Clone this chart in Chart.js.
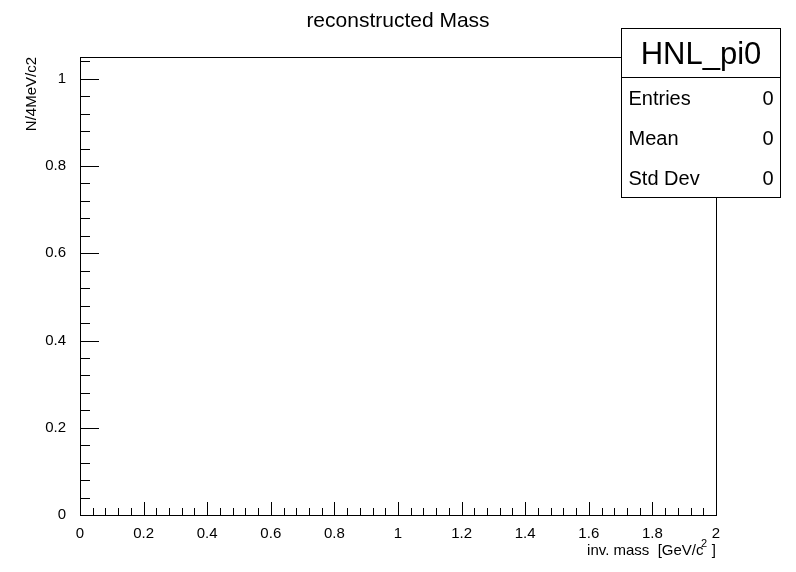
<!DOCTYPE html>
<html>
<head>
<meta charset="utf-8">
<script src="https://cdn.jsdelivr.net/npm/chart.js@4/dist/chart.umd.min.js"></script>
<style>
  body { margin: 0; background: #fff; }
  canvas { display: block; }
</style>
</head>
<body>
<canvas id="massChart" width="796" height="572"></canvas>
<script>
// histogram is empty: 500 bins of 4 MeV between 0 and 2 GeV
const xRange = [0, 2];
const yRange = [0, 1.05];
const binCounts = [];
const statLabels = ["Entries", "Mean", "Std Dev"];
const statValues = ["0", "0", "0"];
const histName = "HNL_pi0";
const FONT = "'Liberation Sans', Arial, sans-serif";

// ROOT-style frame, inward ticks, titles and stats box
const rootStyle = {
    id: "rootStyle",
    afterDraw(chart) {
        const ctx = chart.ctx;
        const a = chart.chartArea;
        const xs = chart.scales.x, ys = chart.scales.y;
        ctx.save();
        ctx.strokeStyle = "#000";
        ctx.lineWidth = 1;
        ctx.strokeRect(a.left + 0.5, a.top + 0.5, a.right - a.left, a.bottom - a.top);

        ctx.beginPath();
        for (let i = 0; i <= 50; i++) {
            const v = i * 0.04;
            const px = Math.round(xs.getPixelForValue(v)) + 0.5;
            const len = i % 5 === 0 ? 13 : 7;
            ctx.moveTo(px, a.bottom);
            ctx.lineTo(px, a.bottom - len);
        }
        for (let i = 0; i <= 26; i++) {
            const v = i * 0.04;
            const py = Math.round(ys.getPixelForValue(v)) + 0.5;
            const len = i % 5 === 0 ? 19 : 10;
            ctx.moveTo(a.left, py);
            ctx.lineTo(a.left + len, py);
        }
        ctx.stroke();

        ctx.fillStyle = "#000";
        ctx.font = "21px " + FONT;
        ctx.textAlign = "center";
        ctx.textBaseline = "middle";
        ctx.fillText("reconstructed Mass", 398, 21);

        ctx.font = "15px " + FONT;
        ctx.textAlign = "right";
        ctx.textBaseline = "alphabetic";
        ctx.fillText("inv. mass  [GeV/c  ]", 716, 555);
        ctx.font = "11px " + FONT;
        ctx.fillText("2", 707, 547);

        ctx.save();
        ctx.translate(36, 57);
        ctx.rotate(-Math.PI / 2);
        ctx.font = "15px " + FONT;
        ctx.textAlign = "right";
        ctx.fillText("N/4MeV/c2", 0, 0);
        ctx.restore();

        // stats box
        const bx = 621.5, by = 28.5, bw = 159, bh = 169;
        ctx.fillStyle = "#fff";
        ctx.fillRect(bx, by, bw, bh);
        ctx.strokeRect(bx, by, bw, bh);
        ctx.beginPath();
        ctx.moveTo(bx, by + 49);
        ctx.lineTo(bx + bw, by + 49);
        ctx.stroke();
        ctx.fillStyle = "#000";
        ctx.font = "31px " + FONT;
        ctx.textAlign = "center";
        ctx.textBaseline = "middle";
        ctx.fillText(histName, bx + bw / 2, by + 27);
        ctx.font = "20px " + FONT;
        statLabels.forEach((lab, i) => {
            const y = by + 71 + i * 40;
            ctx.textAlign = "left";
            ctx.fillText(lab, bx + 7, y);
            ctx.textAlign = "right";
            ctx.fillText(statValues[i], bx + bw - 7, y);
        });
        ctx.restore();
    }
};

new Chart(document.getElementById("massChart"), {
    type: "scatter",
    data: {
        datasets: [{
            label: histName,
            data: binCounts,
            showLine: false,
            pointRadius: 0
        }]
    },
    options: {
        responsive: false,
        animation: false,
        layout: { padding: { top: 57, right: 80, left: 0, bottom: 0 } },
        plugins: { legend: { display: false }, tooltip: { enabled: false } },
        scales: {
            x: {
                type: "linear",
                min: xRange[0],
                max: xRange[1],
                grid: { display: false },
                border: { display: false },
                afterFit: s => { s.height = 57; },
                ticks: {
                    stepSize: 0.2,
                    maxRotation: 0,
                    padding: 2,
                    color: "#000",
                    font: { family: FONT, size: 15 },
                    callback: v => Number(v.toFixed(1)).toString()
                }
            },
            y: {
                type: "linear",
                min: yRange[0],
                max: yRange[1],
                grid: { display: false },
                border: { display: false },
                afterFit: s => { s.width = 80; },
                ticks: {
                    stepSize: 0.2,
                    padding: 6,
                    color: "#000",
                    font: { family: FONT, size: 15 },
                    callback: v => (Math.abs(v * 5 - Math.round(v * 5)) < 1e-6) ? Number(v.toFixed(1)).toString() : ""
                }
            }
        }
    },
    plugins: [rootStyle]
});
</script>
</body>
</html>
